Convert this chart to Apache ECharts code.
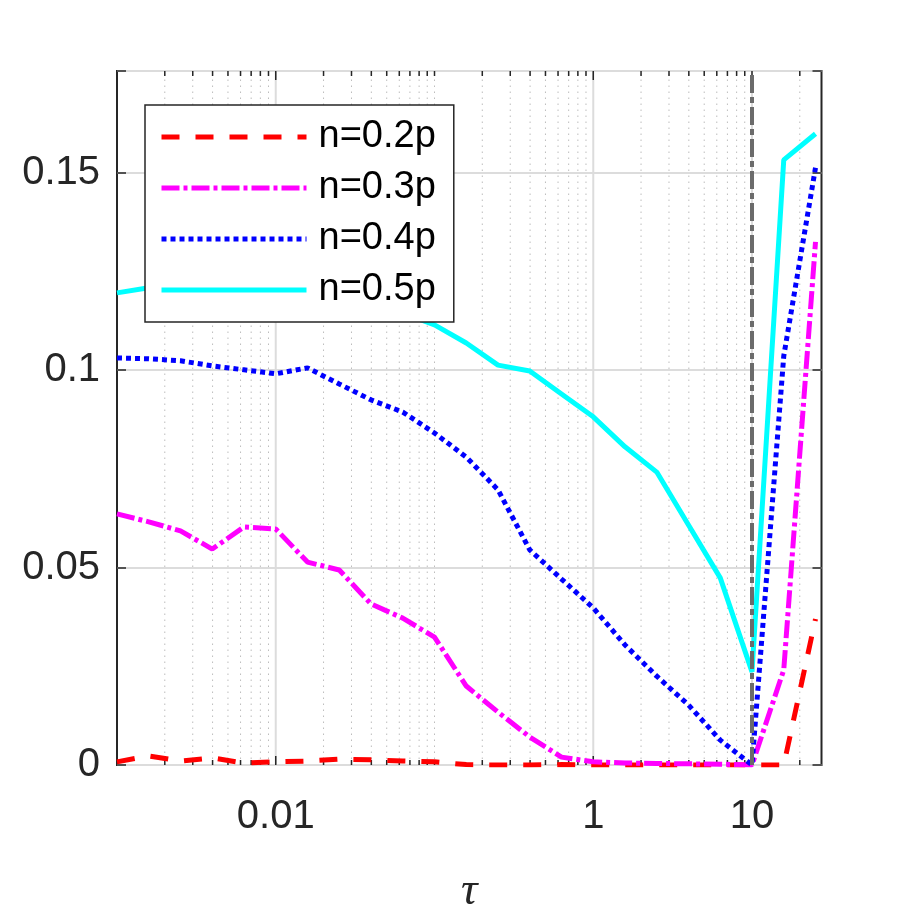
<!DOCTYPE html>
<html>
<head>
<meta charset="utf-8">
<script src="https://cdn.jsdelivr.net/npm/echarts@6/dist/echarts.min.js"></script>
<style>
    html, body { margin: 0; padding: 0; background: #fff; }
    #chart { width: 909px; height: 909px; }
</style>
</head>
<body>
<div id="chart"></div>
<script>
// tau values (log spaced, 0.2 decade steps)
var tau = [0.001, 0.001585, 0.002512, 0.003981, 0.00631, 0.01, 0.01585, 0.02512, 0.03981, 0.0631,
    0.1, 0.1585, 0.2512, 0.3981, 0.631, 1, 1.585, 2.512, 3.981, 6.31, 10, 15.85, 25.12];

var n02 = [0.0008, 0.0023, 0.0010, 0.0018, 0.0005, 0.0008, 0.0010, 0.0015, 0.0013, 0.0010,
    0.0008, 0.0001, 0, 0, 0.0001, 0, 0, 0, 0, 0, 0, 0, 0.0370];
var n03 = [0.0636, 0.0616, 0.0593, 0.0547, 0.0603, 0.0598, 0.0514, 0.0494, 0.0408, 0.0372,
    0.0324, 0.0200, 0.0134, 0.0071, 0.0020, 0.0008, 0.0005, 0.0004, 0.0003, 0.0002, 0, 0.0241, 0.1325];
var n04 = [0.1031, 0.1029, 0.1024, 0.1011, 0.1001, 0.0991, 0.1006, 0.0965, 0.0925, 0.0894,
    0.0841, 0.0780, 0.0697, 0.0545, 0.0471, 0.0398, 0.0304, 0.0225, 0.0152, 0.0063, 0, 0.1036, 0.1513];
var n05 = [0.1196, 0.1209, 0.1215, 0.1220, 0.1215, 0.1210, 0.1195, 0.1180, 0.1165, 0.1145,
    0.1115, 0.1069, 0.1013, 0.0998, 0.0940, 0.0882, 0.0806, 0.0742, 0.0608, 0.0474, 0.0236, 0.1533, 0.1599];

var names = ['n=0.2p', 'n=0.3p', 'n=0.4p', 'n=0.5p'];
var majorTicks = [0.01, 1, 10];
var minorTicks = [0.002, 0.003, 0.004, 0.005, 0.006, 0.007, 0.008, 0.009,
    0.02, 0.03, 0.04, 0.05, 0.06, 0.07, 0.08, 0.09, 0.1,
    0.2, 0.3, 0.4, 0.5, 0.6, 0.7, 0.8, 0.9,
    2, 3, 4, 5, 6, 7, 8, 9, 20];
var yTicks = [0, 0.05, 0.1, 0.15];
var tauLimit = 10;

var xMin = 0.001, xMax = 27.4, yMin = 0, yMax = 0.1758;
var font = 'Liberation Sans';
var ink = '#262626';

function pairs(ys) {
    return tau.map(function (t, i) { return [t, ys[i]]; });
}

// grid lines and tick marks along x (log axis)
function renderTick(params, api) {
    var v = api.value(0), major = api.value(2) === 1;
    var b = api.coord([v, yMin]), t = api.coord([v, yMax]);
    var len = major ? 9 : 5;
    var tickStyle = { stroke: ink, lineWidth: 1.5 };
    return {
        type: 'group',
        children: [
            { type: 'line', shape: { x1: b[0], y1: b[1], x2: t[0], y2: t[1] },
              style: major ? { stroke: '#dcdcdc', lineWidth: 2 }
                           : { stroke: '#bdbdbd', lineWidth: 1, lineDash: [1.5, 4.5] } },
            { type: 'line', shape: { x1: b[0], y1: b[1], x2: b[0], y2: b[1] - len }, style: tickStyle },
            { type: 'line', shape: { x1: t[0], y1: t[1], x2: t[0], y2: t[1] + len }, style: tickStyle }
        ]
    };
}

var tickData = majorTicks.map(function (v) { return [v, 0, 1]; })
    .concat(minorTicks.map(function (v) { return [v, 0, 0]; }));

function xLabel(v) {
    var l = Math.log10(v);
    for (var i = 0; i < majorTicks.length; i++) {
        if (Math.abs(l - Math.log10(majorTicks[i])) < 1e-6) return String(majorTicks[i]);
    }
    return '';
}

function yLabel(v) {
    for (var i = 0; i < yTicks.length; i++) {
        if (Math.abs(v - yTicks[i]) < 1e-9) return String(yTicks[i]);
    }
    return '';
}

var yAxisBase = {
    type: 'value', min: yMin, max: yMax, interval: 0.05,
    axisLine: { show: false },
    axisTick: { show: true, inside: true, length: 9, lineStyle: { color: ink, width: 1.5 } }
};

var option = {
    animation: false,
    grid: { left: 117, right: 87.5, top: 71, bottom: 144, show: true, outerBoundsMode: 'none',
            borderColor: ink, borderWidth: 2, backgroundColor: 'transparent' },
    xAxis: {
        type: 'log', logBase: 10, min: xMin, max: xMax,
        axisLine: { show: false }, axisTick: { show: false }, splitLine: { show: false },
        axisLabel: { interval: 0, formatter: xLabel, fontFamily: font, fontSize: 40, color: ink, margin: 32 },
        name: 'τ', nameLocation: 'middle', nameGap: 104,
        nameTextStyle: { fontFamily: 'Liberation Serif', fontStyle: 'italic', fontSize: 46, color: ink }
    },
    yAxis: [
        echarts.util.merge({
            position: 'left',
            splitLine: { show: true, lineStyle: { color: '#dcdcdc', width: 2 } },
            axisLabel: { formatter: yLabel, fontFamily: font, fontSize: 40, color: ink, margin: 17,
                         padding: [6, 0, 0, 0] }
        }, yAxisBase, true),
        echarts.util.merge({
            position: 'right',
            splitLine: { show: false },
            axisLabel: { show: false }
        }, yAxisBase, true)
    ],
    legend: {
        data: names, orient: 'vertical', left: 145, top: 105,
        padding: [12, 18, 12, 14], itemGap: 11, itemWidth: 145, itemHeight: 20,
        backgroundColor: '#fff', borderColor: ink, borderWidth: 1.5,
        itemStyle: { opacity: 0 },
        lineStyle: { width: 5 },
        textStyle: { fontFamily: font, fontSize: 38, color: '#000', lineHeight: 40, padding: [0, 0, 0, 7] }
    },
    series: [
        { type: 'custom', name: 'grid', z: 1, silent: true, renderItem: renderTick, data: tickData },
        { type: 'line', name: names[0], data: pairs(n02), symbol: 'none', z: 3,
          lineStyle: { color: '#ff0000', width: 5, type: [18, 16] }, itemStyle: { color: '#ff0000' } },
        { type: 'line', name: names[1], data: pairs(n03), symbol: 'none', z: 3,
          lineStyle: { color: '#ff00ff', width: 5, type: [18, 4, 4, 4] }, itemStyle: { color: '#ff00ff' } },
        { type: 'line', name: names[2], data: pairs(n04), symbol: 'none', z: 3,
          lineStyle: { color: '#0000ff', width: 5, type: [5, 4] }, itemStyle: { color: '#0000ff' } },
        { type: 'line', name: names[3], data: pairs(n05), symbol: 'none', z: 3,
          lineStyle: { color: '#00ffff', width: 5, type: 'solid' }, itemStyle: { color: '#00ffff' },
          markLine: {
              silent: true, symbol: 'none', label: { show: false },
              lineStyle: { color: '#6b6b6b', width: 4, type: [18, 4, 6, 4] },
              data: [{ xAxis: tauLimit }]
          } }
    ]
};

var chart = echarts.init(document.getElementById('chart'));
chart.setOption(option);
</script>
</body>
</html>
